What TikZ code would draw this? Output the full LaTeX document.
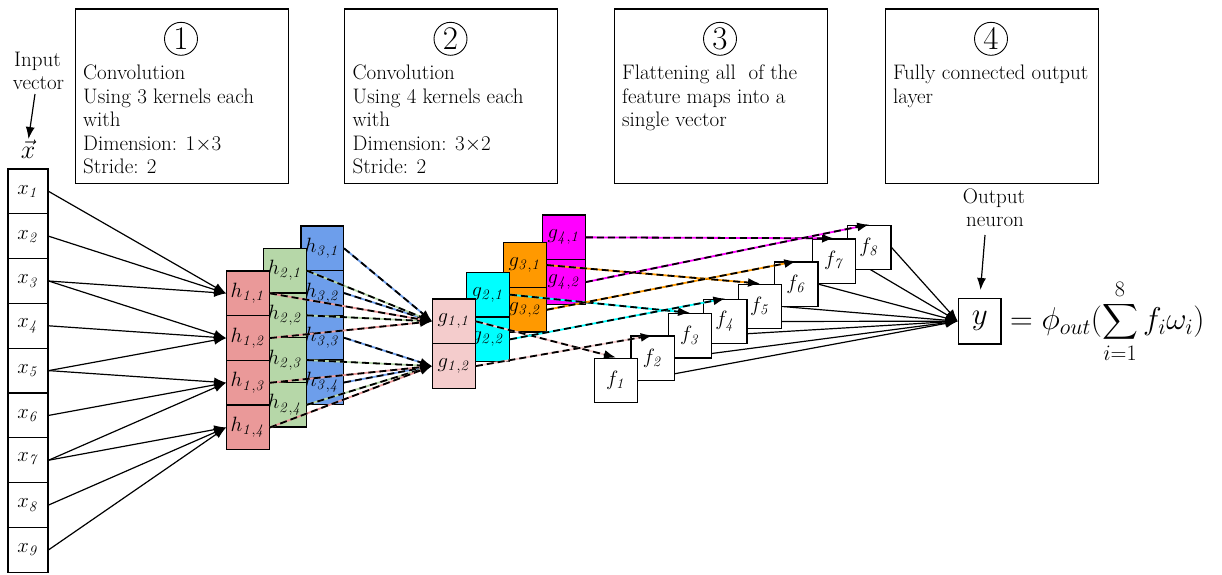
\RequirePackage{fix-cm}
\documentclass[tikz,border=0pt]{standalone}
\usepackage{amsmath}
\usetikzlibrary{arrows.meta,backgrounds}
\definecolor{hred}{HTML}{EA9999}
\definecolor{hgreen}{HTML}{B6D7A8}
\definecolor{hblue}{HTML}{6D9EEB}
\definecolor{gpink}{HTML}{F4CCCC}
\definecolor{gcyan}{HTML}{00FFFF}
\definecolor{gorange}{HTML}{FF9900}
\definecolor{gmag}{HTML}{FF00FF}
\newcommand{\boxfont}{\fontsize{21}{23.5}\selectfont}
\newcommand{\labfont}{\fontsize{20.7}{22}\selectfont}
\newcommand{\eqfont}{\fontsize{31.5}{36}\selectfont}
\newcommand{\yfont}{\fontsize{31}{36}\selectfont}
\newcommand{\circfont}{\fontsize{33}{36}\selectfont}
\newcommand{\vecfont}{\fontsize{26}{30}\selectfont}
\newcommand{\dl}[3]{%
  \draw[line width=1.8pt, draw=#1, shorten >=6pt] (#2) -- (#3);
  \draw[dlin] (#2) -- (#3);}
\begin{document}
\begin{tikzpicture}[x=1pt,y=-1pt,
  topbox/.style={draw, line width=1.3pt, minimum width=213pt, minimum height=174.5pt, anchor=north west, inner sep=0pt},
  circnum/.style={circle, draw, line width=0.9pt, minimum size=33pt, inner sep=0pt, font=\circfont},
  btxt/.style={anchor=base west, inner sep=0pt, font=\boxfont},
  ltxt/.style={anchor=base, inner sep=0pt, font=\boxfont},
  xbox/.style={draw, line width=1.3pt, fill=white, minimum width=40pt, minimum height=44.8pt, inner sep=0pt, font=\labfont},
  cell/.style={draw, line width=1.3pt, minimum width=42.5pt, minimum height=44.7pt, inner sep=0pt, font=\labfont},
  fbox/.style={draw, line width=1.3pt, fill=white, minimum width=43.4pt, minimum height=44.6pt, inner sep=0pt, font=\labfont},
  arr/.style={line width=1.2pt, -{Latex[length=12pt,width=9pt]}},
  dlin/.style={line width=1.8pt, dash pattern=on 7pt off 4pt, -{Latex[length=12pt,width=9pt]}}
]
\useasboundingbox (0,0) rectangle (1222,574);

% top boxes
\node[topbox] (box1) at (74.5,8.3) {};
\node[topbox] (box2) at (344,8.3) {};
\node[topbox] (box3) at (613.5,8.3) {};
\node[topbox] (box4) at (884.5,8.3) {};
\node[circnum] (c1) at (181,38.8) {1};
\node[circnum] (c2) at (450.5,38.8) {2};
\node[circnum] (c3) at (720,38.8) {3};
\node[circnum] (c4) at (991,38.8) {4};

\node[btxt] (t11) at (83,79.5) {Convolution};
\node[btxt] (t12) at (83,103) {Using 3 kernels each};
\node[btxt] (t13) at (83,126.5) {with};
\node[btxt] (t14) at (83,150) {Dimension: 1$\times$3};
\node[btxt] (t15) at (83,173.5) {Stride: 2};

\node[btxt] (t21) at (352.5,79.5) {Convolution};
\node[btxt] (t22) at (352.5,103) {Using 4 kernels each};
\node[btxt] (t23) at (352.5,126.5) {with};
\node[btxt] (t24) at (352.5,150) {Dimension: 3$\times$2};
\node[btxt] (t25) at (352.5,173.5) {Stride: 2};

\node[btxt] (t31) at (622,79.5) {Flattening all\ \ of the};
\node[btxt] (t32) at (622,103) {feature maps into a};
\node[btxt] (t33) at (622,126.5) {single vector};

\node[btxt] (t41) at (893,79.5) {Fully connected output};
\node[btxt] (t42) at (893,103) {layer};

% input label
\node[ltxt] (in1) at (37.5,66.7) {Input};
\node[ltxt] (in2) at (38.5,89.3) {vector};
\coordinate (ia) at (35,94);
\coordinate (ib) at (28.5,139);
\draw[arr] (ia) -- (ib);
\node[anchor=base, inner sep=0pt, font=\vecfont] (xv) at (28,158) {$\vec{x}$};

% input column
\foreach \i in {1,...,9}
  \node[xbox] (x\i) at (28,{191.4+44.8*(\i-1)}) {$x_{\mathit{\i}}$};

% h columns
\foreach \c/\clr/\cx/\tp in {3/hblue/322.2/226, 2/hgreen/285/248.3, 1/hred/248/271}
  \foreach \j in {1,...,4}
    \node[cell, fill=\clr] (h\c\j) at (\cx,{\tp+22.35+44.7*(\j-1)}) {$h_{\mathit{\c,\j}}$};

% x -> h
\foreach \a/\b in {1/1,2/1,3/1,3/2,4/2,5/2,5/3,6/3,7/3,7/4,8/4,9/4}
  \draw[arr] (x\a.east) -- (h1\b.west);

% g columns
\foreach \k/\clr/\cx/\tp in {4/gmag/564/215, 3/gorange/525/242.7, 2/gcyan/488/272.3, 1/gpink/454/299}
  \foreach \j in {1,2}
    \node[cell, fill=\clr] (g\k\j) at (\cx,{\tp+22.35+44.7*(\j-1)}) {$g_{\mathit{\k,\j}}$};

% f boxes
\foreach \i/\fx/\fy in {8/869.2/247.5, 7/834/261.3, 6/796.3/284.2, 5/760/306.5, 4/725.3/321.5, 3/690/335.8, 2/652.7/358.3, 1/616/380.5}
  \node[fbox] (f\i) at (\fx,\fy) {$f_{\mathit{\i}}$};

% output
\node[draw, line width=1.3pt, minimum width=42.7pt, minimum height=45.7pt, inner sep=0pt, font=\yfont] (y) at (979.7,321.2) {$y$};
\node[anchor=base west, inner sep=0pt, font=\eqfont] (eq) at (1010,329.6) {$\displaystyle =\phi_{out}(\sum_{i=1}^{8} f_i\omega_i)$};
\node[ltxt] (o1) at (994,203.3) {Output};
\node[ltxt] (o2) at (995,226.7) {neuron};
\coordinate (oa) at (985,235);
\coordinate (ob) at (980.5,290);
\draw[arr] (oa) -- (ob);

\begin{pgfonlayer}{background}
\foreach \i in {1,...,8}
  \draw[arr] (f\i.east) -- (y.west);
\end{pgfonlayer}

% h -> g
\foreach \c/\clr in {3/hblue, 2/hgreen, 1/hred}{
  \dl{\clr}{h\c1.east}{g11.west}
  \dl{\clr}{h\c2.east}{g11.west}
  \dl{\clr}{h\c3.east}{g12.west}
  \dl{\clr}{h\c4.east}{g12.west}
}

% g -> f
\dl{gpink}{g11.east}{f1.north}
\dl{gpink}{g12.east}{f2.north}
\dl{gcyan}{g21.east}{f3.north}
\dl{gcyan}{g22.east}{f4.north}
\dl{gorange}{g31.east}{f5.north}
\dl{gorange}{g32.east}{f6.north}
\dl{gmag}{g41.east}{f7.north}
\dl{gmag}{g42.east}{f8.north}
\end{tikzpicture}
\end{document}
